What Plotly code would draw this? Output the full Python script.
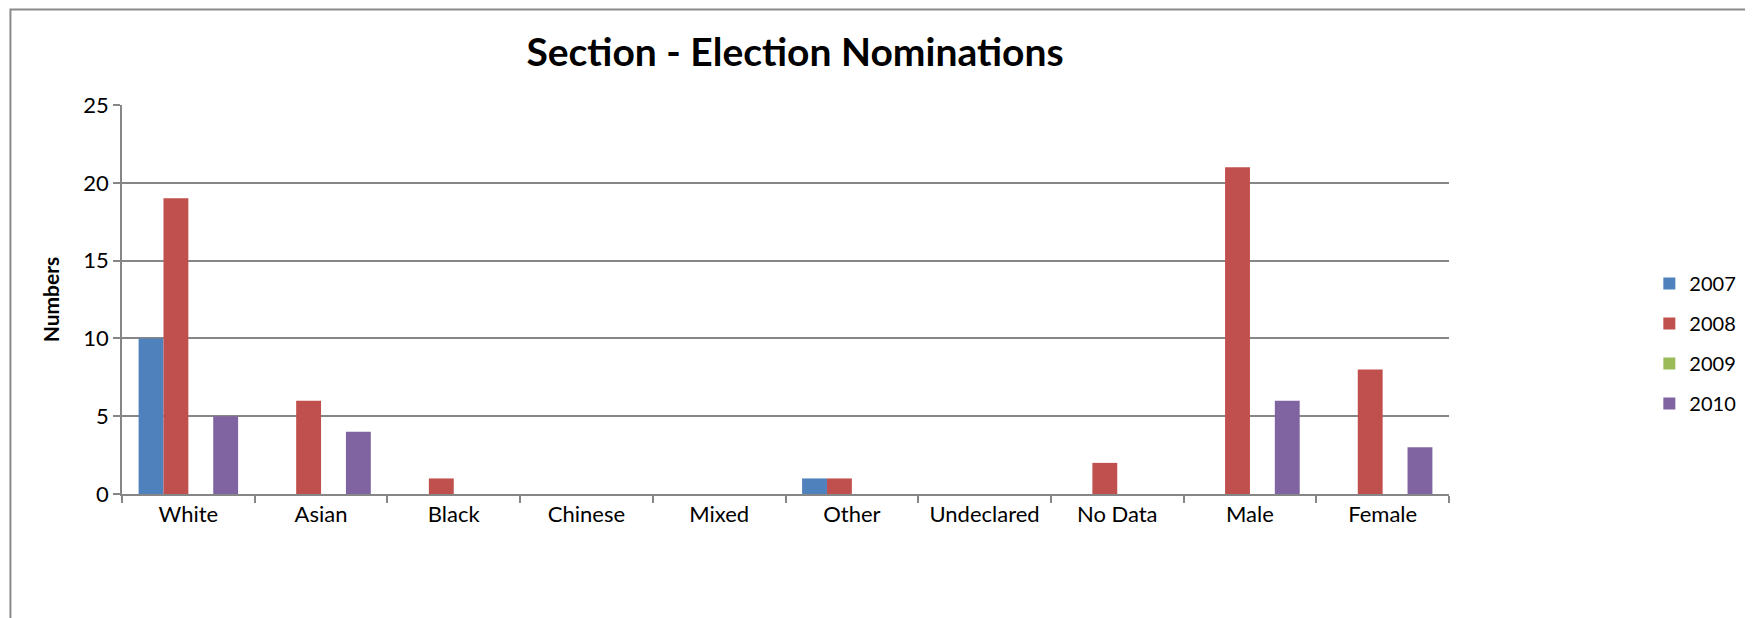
import plotly.graph_objects as go

categories = ["White", "Asian", "Black", "Chinese", "Mixed", "Other", "Undeclared", "No Data", "Male", "Female"]
series_names = ["2007", "2008", "2009", "2010"]
values_2007 = [10, 0, 0, 0, 0, 1, 0, 0, 0, 0]
values_2008 = [19, 6, 1, 0, 0, 1, 0, 2, 21, 8]
values_2009 = [0, 0, 0, 0, 0, 0, 0, 0, 0, 0]
values_2010 = [5, 4, 0, 0, 0, 0, 0, 0, 6, 3]
colors = ["#4F81BD", "#C0504D", "#9BBB59", "#8064A2"]
y_ticks = [0, 5, 10, 15, 20, 25]

# page body has an 8px margin; work in screen pixels and offset
OFF = 8
W, H = 1753 - OFF, 618 - OFF
L, T = 122 - OFF, 105 - OFF
R = W - (1460 - OFF)
B = H - (494 - OFF)
pw, ph = W - L - R, H - T - B

fig = go.Figure()
for name, vals, col in zip(series_names, [values_2007, values_2008, values_2009, values_2010], colors):
    fig.add_trace(go.Bar(x=categories, y=vals, name=name, marker=dict(color=col, line=dict(width=0)),
                         legendgroup=name))

font = "Lato, 'Open Sans', sans-serif"
grid = "#868686"

def px2x(p):
    return (p - OFF - L) / pw

def px2y(p):
    return (H - B - (p - OFF)) / ph

fig.update_layout(
    width=W, height=H,
    margin=dict(l=L, r=R, t=T, b=B),
    paper_bgcolor="white", plot_bgcolor="white",
    font=dict(family=font, size=22, color="black"),
    title=dict(text="<b>Section - Election Nominations</b>", x=(795 - OFF) / W, xanchor="center",
               y=1 - (52 - OFF) / H, yanchor="middle", font=dict(size=39, family=font, color="black")),
    barmode="group", bargap=0.25, bargroupgap=0,
    showlegend=True,
    legend=dict(x=px2x(1662), xanchor="left", y=px2y(264), yanchor="top",
                font=dict(size=20, family=font), tracegroupgap=11, bgcolor="rgba(0,0,0,0)"),
    xaxis=dict(showline=True, linecolor=grid, linewidth=1.5, ticks="outside", tickson="boundaries",
               ticklen=7, tickcolor=grid, tickwidth=1.5, showgrid=False, tickfont=dict(size=22)),
    yaxis=dict(range=[0, 25], tickvals=y_ticks, showline=True, linecolor=grid, linewidth=1.5,
               ticks="outside", ticklen=7, tickcolor=grid, tickwidth=1.5, showgrid=True, gridcolor=grid,
               gridwidth=1.5, zeroline=False, tickfont=dict(size=22),
               title=dict(text="<b>Numbers</b>", font=dict(size=21, family=font), standoff=18)),
    shapes=[dict(type="rect", xref="paper", yref="paper", x0=px2x(OFF + 1.5), x1=px2x(1790),
                 y0=px2y(660), y1=px2y(OFF + 1.5),
                 line=dict(color="#8a8a8a", width=2), layer="below")],
)

fig.write_html("out.html")
